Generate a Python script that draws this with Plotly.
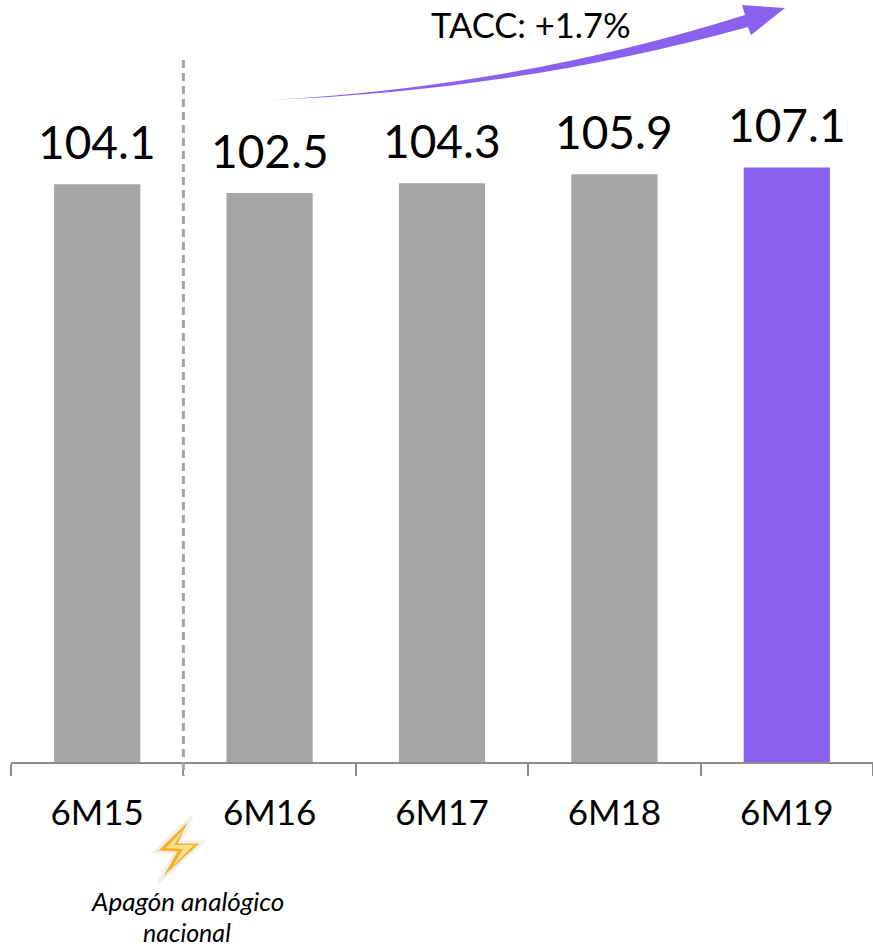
import plotly.graph_objects as go

categories = ["6M15", "6M16", "6M17", "6M18", "6M19"]
values = [104.1, 102.5, 104.3, 105.9, 107.1]
value_labels = ["104.1", "102.5", "104.3", "105.9", "107.1"]
bar_colors = ["#A6A6A6", "#A6A6A6", "#A6A6A6", "#A6A6A6", "#8A60EE"]

W, H = 873, 948
L, R, B = 11, 0, 186
PW, PH = W - L - R, H - B
FONT = "Lato, Carlito, Calibri, sans-serif"


def px(x, y):
    return f"{(x - L) / PW:.5f},{1 - y / PH:.5f}"


def path(cmds):
    out = []
    for c in cmds:
        out.append(c[0] + " ".join(px(*p).replace(",", " ") for p in c[1:]))
    return " ".join(out) + " Z"


def pshape(cmds, fill, line=None, lw=0):
    return dict(type="path", xref="paper", yref="paper", path=path(cmds), fillcolor=fill,
                line=dict(color=line or fill, width=lw), layer="above")


fig = go.Figure(go.Bar(x=categories, y=values, width=0.5, marker=dict(color=bar_colors, line=dict(width=0)),
                       hoverinfo="x+y"))

arrow = [("M", (272, 100)), ("Q", (520, 86), (745, 15)), ("L", (742, 5)), ("L", (785, 8)),
         ("L", (751, 35)), ("L", (748, 27)), ("Q", (520, 90), (272, 100))]
bolt = [("M", (192, 816)), ("L", (155, 852)), ("L", (175, 853)), ("L", (158, 883)), ("L", (203, 842)),
        ("L", (180, 842))]
bolt_inner = [("M", (184, 829)), ("L", (166, 848)), ("L", (183, 849)), ("L", (173, 866)), ("L", (194, 845)),
              ("L", (174, 845))]

shapes = [
    dict(type="line", xref="x", yref="paper", x0=0.5, x1=0.5, y0=1 - 60 / PH, y1=1 - 776 / PH,
         line=dict(color="#A6A6A6", width=3, dash="8px,5px"), layer="above"),
    pshape(arrow, "#8A60EE"),
    pshape(bolt, "#F4B12A", "#F1EFEA", 3),
    pshape(bolt_inner, "#FBE08C"),
]

annotations = [
    dict(x=c, y=v, xref="x", yref="y", text=t, showarrow=False, xanchor="center", yanchor="middle", yshift=43,
         font=dict(family=FONT, size=46, color="#000000"))
    for c, v, t in zip(categories, values, value_labels)
]
annotations += [
    dict(x=(531 - L) / PW, y=1 - 25 / PH, xref="paper", yref="paper", text="TACC: +1.7%", showarrow=False,
         xanchor="center", yanchor="middle", font=dict(family=FONT, size=34.5, color="#000000")),
    dict(x=(187 - L) / PW, y=1 - 901 / PH, xref="paper", yref="paper", text="<i>Apagón analógico</i>",
         showarrow=False, xanchor="center", yanchor="middle", font=dict(family=FONT, size=26, color="#000000")),
    dict(x=(187 - L) / PW, y=1 - 932 / PH, xref="paper", yref="paper", text="<i>nacional</i>",
         showarrow=False, xanchor="center", yanchor="middle", font=dict(family=FONT, size=25, color="#000000")),
]

fig.update_layout(
    width=W, height=H, margin=dict(l=L, r=R, t=0, b=B, pad=0),
    paper_bgcolor="white", plot_bgcolor="white", showlegend=False,
    shapes=shapes, annotations=annotations,
    xaxis=dict(type="category", tickson="boundaries", ticks="outside", ticklen=12, tickwidth=1.5,
               tickcolor="#8C8C8C", showline=True, linecolor="#8C8C8C", linewidth=2, showgrid=False,
               tickfont=dict(family=FONT, size=35, color="#000000"), ticklabelstandoff=19),
    yaxis=dict(range=[0, PH / 5.55], visible=False, showgrid=False, zeroline=False),
)
fig.write_html("out.html", config={"displayModeBar": False},
               post_script="document.body.style.margin='0';document.documentElement.style.overflow='hidden';")
